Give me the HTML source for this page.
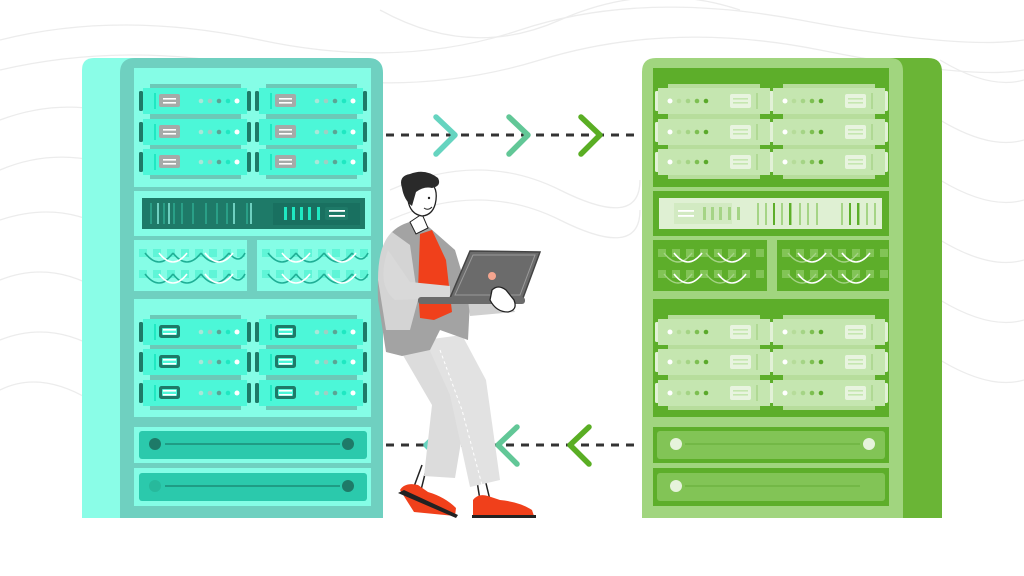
<!DOCTYPE html>
<html><head><meta charset="utf-8"><style>
html,body{margin:0;padding:0;background:#fff;width:1024px;height:576px;overflow:hidden}
svg{display:block}
</style></head><body>
<svg width="1024" height="576" viewBox="0 0 1024 576" xmlns="http://www.w3.org/2000/svg">
<defs>
  <g id="srvL">
    <rect x="7" y="-4" width="91" height="34" fill="#6cc9b8"/>
    <rect x="-4" y="3" width="4" height="20" rx="1.5" fill="#1e7a68"/>
    <rect x="104" y="3" width="4" height="20" rx="1.5" fill="#1e7a68"/>
    <rect x="0" y="0" width="104" height="26" fill="#4cf7d8"/>
    <rect x="11" y="5" width="2" height="16" fill="#1fe8c2"/>
    <rect x="16" y="6" width="21" height="13" rx="2" fill="#a5aaa8"/>
    <rect x="20" y="10" width="13" height="1.6" fill="#fff"/>
    <rect x="20" y="14" width="13" height="1.6" fill="#fff"/>
    <circle cx="58" cy="13" r="2.3" fill="#a8e8d9"/>
    <circle cx="67" cy="13" r="2.3" fill="#9fcfc3"/>
    <circle cx="76" cy="13" r="2.3" fill="#5aa595"/>
    <circle cx="85" cy="13" r="2.3" fill="#1fe8c2"/>
    <circle cx="94" cy="13" r="2.5" fill="#fff"/>
  </g>
  <g id="srvL2">
    <rect x="7" y="-4" width="91" height="34" fill="#6cc9b8"/>
    <rect x="-4" y="3" width="4" height="20" rx="1.5" fill="#1e7a68"/>
    <rect x="104" y="3" width="4" height="20" rx="1.5" fill="#1e7a68"/>
    <rect x="0" y="0" width="104" height="26" fill="#4cf7d8"/>
    <rect x="11" y="5" width="2" height="16" fill="#1fe8c2"/>
    <rect x="16" y="6" width="21" height="13" rx="2.5" fill="#1e7a68"/>
    <rect x="19" y="9" width="15" height="7" rx="1" fill="#4cf7d8"/>
    <rect x="20" y="10" width="13" height="1.6" fill="#fff"/>
    <rect x="20" y="14" width="13" height="1.6" fill="#fff"/>
    <circle cx="58" cy="13" r="2.3" fill="#a8e8d9"/>
    <circle cx="67" cy="13" r="2.3" fill="#9fcfc3"/>
    <circle cx="76" cy="13" r="2.3" fill="#5aa595"/>
    <circle cx="85" cy="13" r="2.3" fill="#1fe8c2"/>
    <circle cx="94" cy="13" r="2.5" fill="#fff"/>
  </g>
  <g id="srvR">
    <rect x="10" y="-4" width="92" height="34" fill="#b7dd9c"/>
    <rect x="-3" y="3" width="4" height="20" rx="1.5" fill="#e2f1d7"/>
    <rect x="111" y="3" width="4" height="20" rx="1.5" fill="#e2f1d7"/>
    <rect x="0" y="0" width="112" height="26" fill="#c5e6b0"/>
    <rect x="72" y="6" width="21" height="14" rx="2" fill="#e8f4df"/>
    <rect x="75" y="10" width="15" height="1.6" fill="#c5e6b0"/>
    <rect x="75" y="14" width="15" height="1.6" fill="#c5e6b0"/>
    <rect x="98" y="5" width="2" height="16" fill="#b0d994"/>
    <circle cx="12" cy="13" r="2.5" fill="#fff"/>
    <circle cx="21" cy="13" r="2.3" fill="#b6dc9a"/>
    <circle cx="30" cy="13" r="2.3" fill="#a5d486"/>
    <circle cx="39" cy="13" r="2.3" fill="#7dbf51"/>
    <circle cx="48" cy="13" r="2.3" fill="#5aa92a"/>
  </g>
  <g id="cabL">
    <g fill="#5ff5d7">
      <rect x="0" y="0" width="8" height="8"/><rect x="14" y="0" width="8" height="8"/><rect x="28" y="0" width="8" height="8"/><rect x="42" y="0" width="8" height="8"/><rect x="56" y="0" width="8" height="8"/><rect x="70" y="0" width="8" height="8"/><rect x="84" y="0" width="8" height="8"/><rect x="98" y="0" width="8" height="8"/>
    </g>
    <path d="M6 4 Q20 22 34 4 M34 4 Q48 22 62 4 M62 4 Q76 22 90 4 M90 4 Q100 16 106 4" stroke="#1fae95" stroke-width="1.6" fill="none"/>
    <path d="M20 4 Q34 22 48 4 M66 4 Q80 22 94 4" stroke="#fff" stroke-width="1.6" fill="none"/>
  </g>
  <g id="cabR">
    <g fill="#82c456">
      <rect x="0" y="0" width="8" height="8"/><rect x="14" y="0" width="8" height="8"/><rect x="28" y="0" width="8" height="8"/><rect x="42" y="0" width="8" height="8"/><rect x="56" y="0" width="8" height="8"/><rect x="70" y="0" width="8" height="8"/><rect x="84" y="0" width="8" height="8"/><rect x="98" y="0" width="8" height="8"/>
    </g>
    <path d="M6 4 Q20 22 34 4 M48 4 Q62 22 76 4" stroke="#a5d486" stroke-width="1.4" fill="none"/>
    <path d="M16 4 Q30 22 44 4 M60 4 Q74 22 88 4" stroke="#fff" stroke-width="1.6" fill="none"/>
  </g>
</defs>

<!-- background waves -->
<g stroke="#ececec" stroke-width="1.3" fill="none">
  <path d="M0 40 Q120 10 260 40 T520 30 T800 20 T1024 40"/>
  <path d="M0 70 Q130 40 270 70 T540 60 T820 50 T1024 70"/>
  <path d="M0 120 Q80 90 160 130 T320 110"/>
  <path d="M0 170 Q70 140 150 180"/>
  <path d="M0 220 Q60 200 110 230"/>
  <path d="M0 280 Q50 260 100 290"/>
  <path d="M0 340 Q50 320 100 350"/>
  <path d="M0 390 Q40 370 90 400"/>
  <path d="M380 10 Q470 60 560 20 T740 10"/>
  <path d="M390 190 Q480 150 560 190 T640 180"/>
  <path d="M390 220 Q480 180 560 220 T640 210"/>
  <path d="M940 60 Q990 90 1024 80"/>
  <path d="M940 120 Q990 150 1024 140"/>
  <path d="M940 180 Q990 210 1024 200"/>
  <path d="M940 240 Q990 270 1024 260"/>
  <path d="M940 300 Q990 330 1024 320"/>
  <path d="M940 360 Q990 390 1024 380"/>
</g>

<!-- LEFT RACK -->
<path d="M94 58 H140 V518 H82 V70 Q82 58 94 58 Z" fill="#8afde7"/>
<path d="M135 58 H368 Q383 58 383 73 V518 H120 V73 Q120 58 135 58 Z" fill="#6fd0c0"/>
<rect x="134" y="68" width="237" height="119" fill="#85fde6"/>
<use href="#srvL" x="143" y="88"/><use href="#srvL" x="259" y="88"/>
<use href="#srvL" x="143" y="119"/><use href="#srvL" x="259" y="119"/>
<use href="#srvL" x="143" y="149"/><use href="#srvL" x="259" y="149"/>
<rect x="134" y="191" width="237" height="45" fill="#85fde6"/>
<rect x="142" y="198" width="223" height="31" fill="#1e7a68"/>
<g fill="#2a9f87">
  <rect x="150" y="203" width="2" height="21"/><rect x="157" y="203" width="2" height="21"/><rect x="163" y="203" width="2" height="21"/><rect x="173" y="203" width="2" height="21"/><rect x="181" y="203" width="2" height="21"/><rect x="192" y="203" width="2" height="21"/><rect x="205" y="203" width="2" height="21"/><rect x="216" y="203" width="2" height="21"/><rect x="226" y="203" width="2" height="21"/><rect x="233" y="203" width="2" height="21"/><rect x="246" y="203" width="2" height="21"/>
</g>
<g fill="#6fd0c0"><rect x="157" y="203" width="2" height="21"/><rect x="168" y="203" width="2" height="21"/><rect x="233" y="203" width="2" height="21"/><rect x="250" y="203" width="2" height="21"/></g>
<rect x="273" y="203" width="87" height="22" fill="#197060"/>
<g fill="#1fe8c2"><rect x="284" y="207" width="3" height="13"/><rect x="292" y="207" width="3" height="13"/><rect x="300" y="207" width="3" height="13"/><rect x="308" y="207" width="3" height="13"/><rect x="317" y="207" width="3" height="13"/></g>
<rect x="325" y="207" width="23" height="13" rx="2" fill="#1e7a68"/>
<rect x="329" y="210" width="16" height="1.8" fill="#fff"/><rect x="329" y="215" width="16" height="1.8" fill="#fff"/>
<rect x="134" y="240" width="113" height="51" fill="#85fde6"/>
<rect x="257" y="240" width="114" height="51" fill="#85fde6"/>
<use href="#cabL" x="139" y="249"/><use href="#cabL" x="139" y="270"/>
<use href="#cabL" x="262" y="249"/><use href="#cabL" x="262" y="270"/>
<rect x="134" y="299" width="237" height="118" fill="#85fde6"/>
<use href="#srvL2" x="143" y="319"/><use href="#srvL2" x="259" y="319"/>
<use href="#srvL2" x="143" y="349"/><use href="#srvL2" x="259" y="349"/>
<use href="#srvL2" x="143" y="380"/><use href="#srvL2" x="259" y="380"/>
<rect x="134" y="427" width="237" height="36" fill="#85fde6"/>
<rect x="139" y="431" width="228" height="28" rx="3" fill="#2bc9ac"/>
<rect x="165" y="443" width="175" height="2" fill="#1f9c85"/>
<circle cx="155" cy="444" r="6" fill="#1e7a68"/><circle cx="348" cy="444" r="6" fill="#1e7a68"/>
<rect x="134" y="468" width="237" height="38" fill="#85fde6"/>
<rect x="139" y="473" width="228" height="28" rx="3" fill="#2bc9ac"/>
<rect x="165" y="485" width="175" height="2" fill="#1f9c85"/>
<circle cx="155" cy="486" r="6" fill="#27b99c"/><circle cx="348" cy="486" r="6" fill="#1e7a68"/>

<!-- RIGHT RACK -->
<path d="M880 58 H928 Q942 58 942 72 V518 H880 Z" fill="#6ab536"/>
<path d="M656 58 H890 Q903 58 903 71 V518 H642 V72 Q642 58 656 58 Z" fill="#a1d57f"/>
<rect x="653" y="68" width="236" height="119" fill="#5dae2a"/>
<use href="#srvR" x="658" y="88"/><use href="#srvR" x="773" y="88"/>
<use href="#srvR" x="658" y="119"/><use href="#srvR" x="773" y="119"/>
<use href="#srvR" x="658" y="149"/><use href="#srvR" x="773" y="149"/>
<rect x="653" y="191" width="236" height="45" fill="#5dae2a"/>
<rect x="659" y="198" width="223" height="31" fill="#dff0d3"/>
<rect x="674" y="203" width="58" height="21" fill="#d2eac2"/>
<rect x="678" y="210" width="16" height="1.8" fill="#fff"/><rect x="678" y="215" width="16" height="1.8" fill="#fff"/>
<g fill="#a5d486"><rect x="703" y="207" width="3" height="13"/><rect x="711" y="207" width="3" height="13"/><rect x="719" y="207" width="3" height="13"/><rect x="728" y="207" width="3" height="13"/><rect x="737" y="207" width="3" height="13"/></g>
<g fill="#a5d486"><rect x="757" y="203" width="2" height="22"/><rect x="765" y="203" width="2" height="22"/><rect x="781" y="203" width="2" height="22"/><rect x="790" y="203" width="2" height="22"/><rect x="799" y="203" width="2" height="22"/><rect x="807" y="203" width="2" height="22"/><rect x="816" y="203" width="2" height="22"/><rect x="841" y="203" width="2" height="22"/><rect x="858" y="203" width="2" height="22"/><rect x="866" y="203" width="2" height="22"/><rect x="874" y="203" width="2" height="22"/></g>
<g fill="#5dae2a"><rect x="773" y="203" width="2" height="22"/><rect x="789" y="203" width="2" height="22"/><rect x="849" y="203" width="2" height="22"/><rect x="857" y="203" width="2" height="22"/></g>
<rect x="653" y="240" width="114" height="51" fill="#5dae2a"/>
<rect x="777" y="240" width="112" height="51" fill="#5dae2a"/>
<use href="#cabR" x="658" y="249"/><use href="#cabR" x="658" y="270"/>
<use href="#cabR" x="782" y="249"/><use href="#cabR" x="782" y="270"/>
<rect x="653" y="299" width="236" height="118" fill="#5dae2a"/>
<use href="#srvR" x="658" y="319"/><use href="#srvR" x="773" y="319"/>
<use href="#srvR" x="658" y="349"/><use href="#srvR" x="773" y="349"/>
<use href="#srvR" x="658" y="380"/><use href="#srvR" x="773" y="380"/>
<rect x="653" y="427" width="236" height="36" fill="#5dae2a"/>
<rect x="657" y="431" width="228" height="28" rx="3" fill="#82c456"/>
<rect x="685" y="443" width="175" height="2" fill="#73b846"/>
<circle cx="676" cy="444" r="6" fill="#e6f3dc"/><circle cx="869" cy="444" r="6" fill="#e6f3dc"/>
<rect x="653" y="468" width="236" height="38" fill="#5dae2a"/>
<rect x="657" y="473" width="228" height="28" rx="3" fill="#82c456"/>
<rect x="685" y="485" width="175" height="2" fill="#73b846"/>
<circle cx="676" cy="486" r="6" fill="#e6f3dc"/>

<!-- connectors -->
<line x1="386" y1="135" x2="640" y2="135" stroke="#333" stroke-width="3" stroke-dasharray="8 7"/>
<g fill="none" stroke-width="5.5" stroke-linecap="round" stroke-linejoin="round">
  <path d="M436 117 L455 135 L436 154" stroke="#66d4c0"/>
  <path d="M509 117 L528 135 L509 154" stroke="#62c797"/>
  <path d="M581 117 L600 135 L581 154" stroke="#5aae24"/>
</g>
<line x1="386" y1="445" x2="640" y2="445" stroke="#333" stroke-width="3" stroke-dasharray="8 7"/>
<g fill="none" stroke-width="5.5" stroke-linecap="round" stroke-linejoin="round">
  <path d="M445 427 L426 445 L445 464" stroke="#66d4c0"/>
  <path d="M517 427 L498 445 L517 464" stroke="#62c797"/>
  <path d="M589 427 L570 445 L589 464" stroke="#5aae24"/>
</g>

<!-- PERSON -->
<!-- shoelaces/legs lines -->
<path d="M422 465 L412 492 M426 470 L420 494 M476 475 L480 500 M484 475 L490 500" stroke="#222" stroke-width="1.5"/>
<!-- pants -->
<path d="M397 345 L440 340 L468 400 L455 478 L424 476 L432 405 Z" fill="#dcdcdc"/>
<path d="M425 340 L462 335 L486 380 L500 480 L470 487 L450 395 Z" fill="#e2e2e2"/>
<path d="M440 350 L462 410 L482 485" stroke="#fff" stroke-width="1" stroke-dasharray="3 3" fill="none"/>
<!-- shoes -->
<path d="M400 490 Q405 482 418 485 L428 492 Q445 497 456 508 L455 516 L414 512 Z" fill="#f0401b"/>
<path d="M398 493 L456 518 L458 515 L404 490 Z" fill="#222"/>
<path d="M473 500 Q478 493 488 496 L500 500 Q520 502 532 510 L534 516 L473 516 Z" fill="#f0401b"/>
<rect x="472" y="515" width="64" height="3" fill="#222"/>
<!-- jacket -->
<path d="M392 232 Q402 222 420 220 L430 228 L455 250 L470 300 L468 340 L440 330 L430 350 L402 356 L386 352 L378 300 Q376 250 392 232 Z" fill="#a3a3a3"/>
<path d="M392 232 Q378 245 378 280 L386 330 L410 330 L418 300 L410 245 Z" fill="#d4d4d4"/>
<!-- shirt -->
<path d="M420 234 L432 230 L446 260 L452 312 L434 320 L420 318 L418 290 Z" fill="#f0401b"/>
<!-- arm -->
<path d="M388 250 Q376 285 395 300 L450 298 L450 286 L410 282 Z" fill="#d9d9d9"/>
<path d="M468 300 L505 296 L515 312 L470 316 Z" fill="#d0d0d0"/>
<!-- laptop -->
<path d="M470 251 L540 252 L523 298 L450 298 Z" fill="#6b6b6b" stroke="#444" stroke-width="1.5"/>
<path d="M473 255 L535 255 L520 295 L455 295 Z" fill="none" stroke="#9a9a9a" stroke-width="1"/>
<circle cx="492" cy="276" r="4" fill="#f4a58f"/>
<rect x="418" y="297" width="107" height="7" rx="3" fill="#6b6b6b"/>
<path d="M492 290 Q498 284 506 290 L514 300 Q518 310 508 312 Q496 312 490 300 Z" fill="#fff" stroke="#222" stroke-width="1.3"/>
<!-- neck & head -->
<path d="M410 222 L422 214 L428 228 L416 234 Z" fill="#fff" stroke="#222" stroke-width="1"/>
<path d="M408 190 Q410 178 425 180 Q438 184 436 200 Q434 215 422 216 Q410 214 408 200 Z" fill="#fff" stroke="#222" stroke-width="1.3"/>
<path d="M402 188 Q398 176 410 174 Q425 168 438 178 Q442 186 432 188 Q424 186 416 192 L412 206 Q404 200 402 188 Z" fill="#2a2a2a"/>
<circle cx="429" cy="198" r="1.2" fill="#222"/>
<path d="M424 208 Q428 211 432 207" stroke="#222" stroke-width="1" fill="none"/>
</svg>
</body></html>
